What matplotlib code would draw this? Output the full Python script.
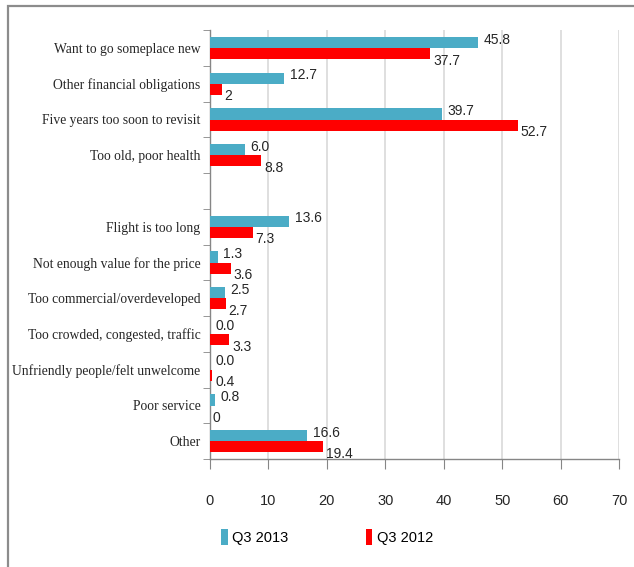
import numpy as np
import matplotlib
matplotlib.use("Agg")
import matplotlib.pyplot as plt
from matplotlib.patches import Rectangle
from matplotlib.ticker import MultipleLocator

categories = [
    "Want to go someplace new",
    "Other financial obligations",
    "Five years too soon to revisit",
    "Too old, poor health",
    "",
    "Flight is too long",
    "Not enough value for the price",
    "Too commercial/overdeveloped",
    "Too crowded, congested, traffic",
    "Unfriendly people/felt unwelcome",
    "Poor service",
    "Other",
]
q3_2013 = [45.8, 12.7, 39.7, 6.0, None, 13.6, 1.3, 2.5, 0.0, 0.0, 0.8, 16.6]
q3_2012 = [37.7, 2, 52.7, 8.8, None, 7.3, 3.6, 2.7, 3.3, 0.4, 0, 19.4]
x_ticks = [0, 10, 20, 30, 40, 50, 60, 70]

blue = "#4BACC6"
red = "#FF0000"
ink = "#262626"
num_font = ["Liberation Sans", "DejaVu Sans"]
cat_font = ["Liberation Serif", "DejaVu Serif"]

fig = plt.figure(figsize=(6.34, 5.67), dpi=100)
ax = fig.add_axes([210 / 634, 1 - 459 / 567, 409 / 634, 429 / 567])

pos = np.arange(len(categories))
v13 = np.array([np.nan if v is None else v for v in q3_2013], dtype=float)
v12 = np.array([np.nan if v is None else v for v in q3_2012], dtype=float)
h = 0.31
ax.barh(pos - 0.15, v13, height=h, color=blue, label="Q3 2013", zorder=3)
ax.barh(pos + 0.16, v12, height=h, color=red, label="Q3 2012", zorder=3)

# value labels: 2013 beside the bar, 2012 a little lower
for p, v in zip(pos, q3_2013):
    if v is None:
        continue
    ax.annotate(str(v), (v, p - 0.15), xytext=(4, 2), textcoords="offset points",
                ha="left", va="center", fontsize=10, family=num_font, color=ink)
for p, v in zip(pos, q3_2012):
    if v is None:
        continue
    ax.annotate(str(v), (v, p + 0.16), xytext=(2, -5), textcoords="offset points",
                ha="left", va="center", fontsize=10, family=num_font, color=ink)

ax.set_xlim(0, 70)
ax.set_ylim(len(categories) - 0.5, -0.5)
ax.set_xticks(x_ticks)
ax.set_xticklabels([str(t) for t in x_ticks], family=num_font, fontsize=10.5, color=ink)
ax.set_yticks(pos)
ax.set_yticklabels(categories, family=cat_font, fontsize=9.8, color=ink)
ax.yaxis.set_minor_locator(MultipleLocator(1, offset=0.5))
ax.tick_params(axis="y", which="major", length=0, pad=7)
ax.tick_params(axis="y", which="minor", length=5, color="#868686", direction="out")
ax.tick_params(axis="x", length=7, color="#868686", pad=18)

ax.grid(axis="x", color="#d9d9d9", linewidth=1.2, zorder=0)
ax.set_axisbelow(True)
for side in ("top", "right"):
    ax.spines[side].set_visible(False)
for side in ("left", "bottom"):
    ax.spines[side].set_color("#868686")
    ax.spines[side].set_linewidth(1.0)

fig.legend(loc="center", bbox_to_anchor=(327 / 634, 1 - 537 / 567), ncol=2, frameon=False,
           handlelength=0.45, handleheight=1.3, handletextpad=0.3, columnspacing=5.3,
           prop={"family": num_font, "size": 10.5})

# outer border of the slide panel
fig.patches.append(Rectangle((8 / 634, -0.05), 1.1, 1 - 6 / 567 + 0.05, transform=fig.transFigure,
                             fill=False, edgecolor="#8c8c8c", linewidth=1.6, clip_on=False))

fig.savefig("out.png", dpi=100)
